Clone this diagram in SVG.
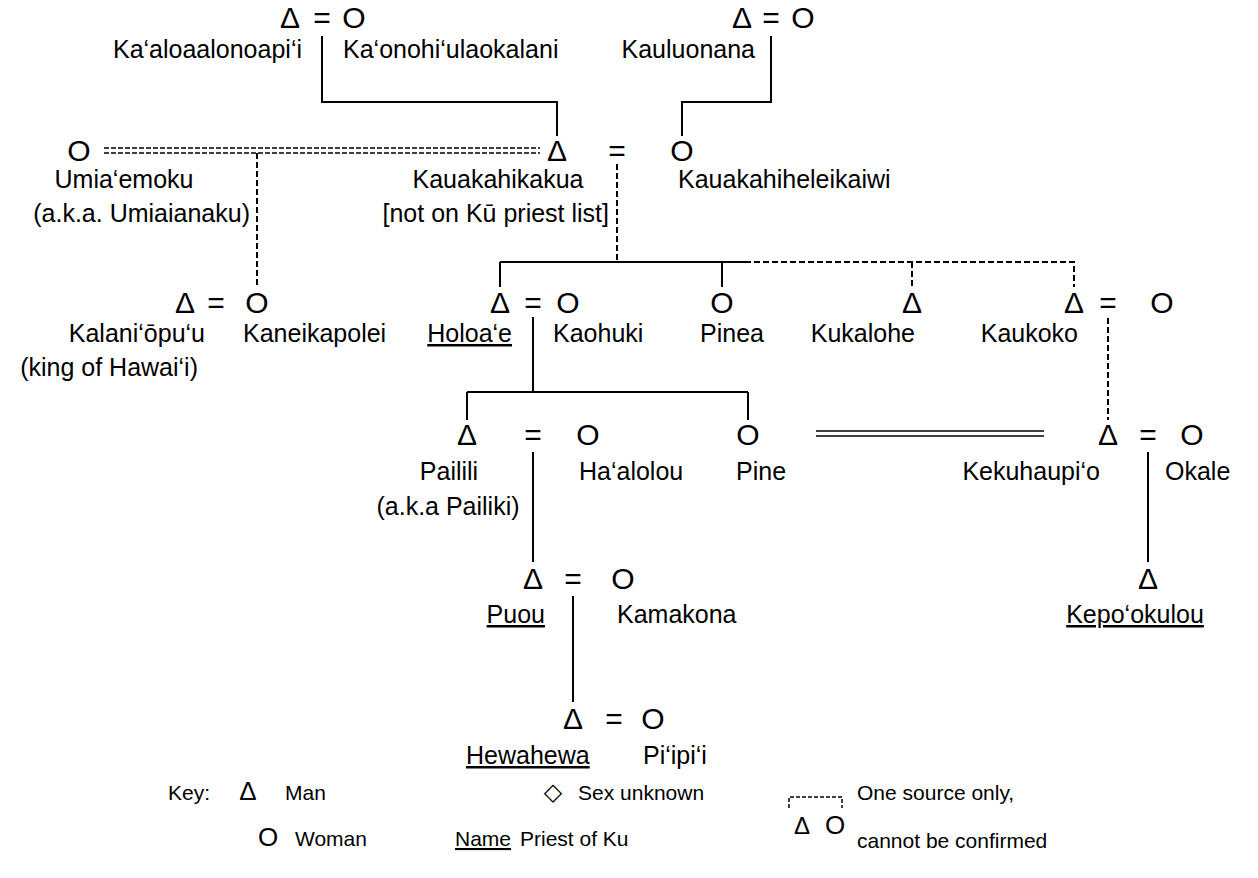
<svg xmlns="http://www.w3.org/2000/svg" width="1258" height="878" viewBox="0 0 1258 878">
<style>
.s{font-family:"Liberation Sans",Arial,sans-serif;font-size:30px;text-anchor:middle;fill:#000}
.t{font-family:"Liberation Sans",Arial,sans-serif;font-size:25px;fill:#000}
.k{font-family:"Liberation Sans",Arial,sans-serif;font-size:21px;fill:#000}
.m{text-anchor:middle}
.e{text-anchor:end}
.u{text-decoration:underline}
.l{stroke:#000;stroke-width:2;fill:none}
.d{stroke-dasharray:6 3}
.dd{stroke:#000;stroke-width:1.5;fill:none;stroke-dasharray:5 2}
.w{stroke:#000;stroke-width:1.5;fill:none}
</style>
<rect width="1258" height="878" fill="#fff"/>
<g id="connectors">
<text class="s" x="322" y="28">=</text>
<path class="l" d="M322,36V102H557V136"/>
<text class="s" x="771" y="28">=</text>
<path class="l" d="M771,36V102H682V136"/>
<path class="dd" d="M104,148H540M104,153H540"/>
<path class="l d" d="M257,153V287"/>
<text class="s" x="617" y="161">=</text>
<path class="l d" d="M617,164V262"/>
<path class="l" d="M500,262H745M500,262V287M722,262V287"/>
<path class="l d" d="M745,262H1074V287M912,262V287"/>
<text class="s" x="216" y="313">=</text>
<text class="s" x="533" y="313">=</text>
<path class="l" d="M533,317V392M467,392H748M467,392V420M748,392V420"/>
<text class="s" x="1108" y="313">=</text>
<path class="l d" d="M1108,318V420"/>
<text class="s" x="533" y="445">=</text>
<path class="l" d="M533,452V562"/>
<path class="w" d="M816,431H1044M816,436H1044"/>
<text class="s" x="1148" y="445">=</text>
<path class="l" d="M1148,452V562"/>
<text class="s" x="573" y="589">=</text>
<path class="l" d="M573,596V702"/>
<text class="s" x="614" y="729">=</text>
</g>
<g id="kaaloaalonoapii"><text class="s" x="290" y="28">Δ</text><text class="t e" x="302" y="58">Ka‘aloaalonoapi‘i</text></g>
<g id="kaonohiulaokalani"><text class="s" x="354" y="28">O</text><text class="t" x="343" y="58">Ka‘onohi‘ulaokalani</text></g>
<g id="kauluonana"><text class="s" x="742" y="28">Δ</text><text class="t e" x="755" y="58">Kauluonana</text></g>
<g id="kauluonana-wife"><text class="s" x="803" y="28">O</text></g>
<g id="umiaemoku"><text class="s" x="79" y="161">O</text><text class="t m" x="124" y="188">Umia‘emoku</text><text class="t e" x="250" y="222">(a.k.a. Umiaianaku)</text></g>
<g id="kauakahikakua"><text class="s" x="557" y="161">Δ</text><text class="t m" x="498" y="188">Kauakahikakua</text><text class="t e" x="609" y="222">[not on Kū priest list]</text></g>
<g id="kauakahiheleikaiwi"><text class="s" x="682" y="161">O</text><text class="t" x="678" y="188">Kauakahiheleikaiwi</text></g>
<g id="kalaniopuu"><text class="s" x="185" y="313">Δ</text><text class="t e" x="205" y="342">Kalani‘ōpu‘u</text><text class="t e" x="198" y="376">(king of Hawai‘i)</text></g>
<g id="kaneikapolei"><text class="s" x="257" y="313">O</text><text class="t" x="243" y="342">Kaneikapolei</text></g>
<g id="holoae"><text class="s" x="500" y="313">Δ</text><text class="t e u" x="512" y="342">Holoa‘e</text></g>
<g id="kaohuki"><text class="s" x="568" y="313">O</text><text class="t" x="553" y="342">Kaohuki</text></g>
<g id="pinea"><text class="s" x="722" y="313">O</text><text class="t m" x="732" y="342">Pinea</text></g>
<g id="kukalohe"><text class="s" x="912" y="313">Δ</text><text class="t e" x="915" y="342">Kukalohe</text></g>
<g id="kaukoko"><text class="s" x="1074" y="313">Δ</text><text class="t e" x="1078" y="342">Kaukoko</text></g>
<g id="kaukoko-wife"><text class="s" x="1162" y="313">O</text></g>
<g id="pailili"><text class="s" x="467" y="445">Δ</text><text class="t m" x="449" y="480">Pailili</text><text class="t m" x="448" y="515">(a.k.a Pailiki)</text></g>
<g id="haalolou"><text class="s" x="588" y="445">O</text><text class="t" x="579" y="480">Ha‘alolou</text></g>
<g id="pine"><text class="s" x="748" y="445">O</text><text class="t" x="736" y="480">Pine</text></g>
<g id="kekuhaupio"><text class="s" x="1108" y="445">Δ</text><text class="t e" x="1100" y="480">Kekuhaupi‘o</text></g>
<g id="okale"><text class="s" x="1192" y="445">O</text><text class="t" x="1165" y="480">Okale</text></g>
<g id="puou"><text class="s" x="533" y="589">Δ</text><text class="t e u" x="545" y="623">Puou</text></g>
<g id="kamakona"><text class="s" x="623" y="589">O</text><text class="t" x="617" y="623">Kamakona</text></g>
<g id="kepookulou"><text class="s" x="1148" y="589">Δ</text><text class="t m u" x="1135" y="623">Kepo‘okulou</text></g>
<g id="hewahewa"><text class="s" x="573" y="729">Δ</text><text class="t u" x="466" y="764">Hewahewa</text></g>
<g id="piipii"><text class="s" x="653" y="729">O</text><text class="t" x="643" y="764">Pi‘ipi‘i</text></g>
<g id="key">
<text class="k" x="168" y="800">Key:</text>
<text class="s" x="248" y="800" style="font-size:26px">Δ</text>
<text class="k" x="285" y="800">Man</text>
<text class="s" x="553" y="800" style="font-family:'DejaVu Sans',sans-serif;font-size:24px">◇</text>
<text class="k" x="578" y="800">Sex unknown</text>
<path class="dd" d="M789,808V797H842V808" style="stroke-dasharray:4 2"/>
<text class="k" x="857" y="800">One source only,</text>
<text class="s" x="268" y="846" style="font-size:26px">O</text>
<text class="k" x="295" y="846">Woman</text>
<text class="k u" x="455" y="846">Name</text>
<text class="k" x="520" y="846">Priest of Ku</text>
<text class="s" x="802" y="834" style="font-size:24px">Δ</text>
<text class="s" x="835" y="834" style="font-size:26px">O</text>
<text class="k" x="857" y="848">cannot be confirmed</text>
</g>
</svg>
